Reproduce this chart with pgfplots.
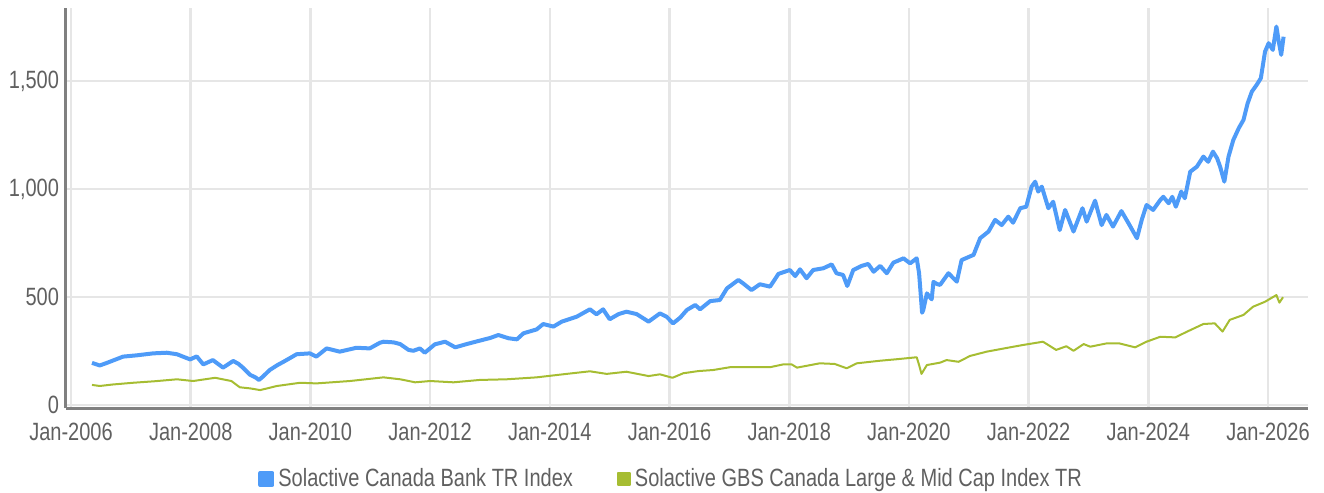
\documentclass[border=0pt]{standalone}
\usepackage{fontspec}
\setmainfont{Liberation Sans}[FakeStretch=0.80]
\usepackage{pgfplots}
\pgfplotsset{compat=1.18}
\definecolor{cBlue}{HTML}{4E9BF8}
\definecolor{cGreen}{HTML}{A6BD32}
\definecolor{cText}{HTML}{606060}
\definecolor{cGrid}{HTML}{E6E6E6}
\definecolor{cAxis}{HTML}{808080}
\begin{document}
\begin{tikzpicture}
\path[use as bounding box] (-33pt,-42.5pt) rectangle (629pt,204pt);
\begin{axis}[
  scale only axis, width=621pt, height=200pt,
  at={(0,0)}, anchor=south west,
  xmin=2005.916, xmax=2026.668, ymin=-13.9, ymax=1838,
  axis lines=left,
  axis line style={-, draw=cAxis, line width=1.5pt},
  major tick length=0pt,
  xtick={2006,2008,...,2026},
  xticklabels={Jan-2006,Jan-2008,Jan-2010,Jan-2012,Jan-2014,Jan-2016,Jan-2018,Jan-2020,Jan-2022,Jan-2024,Jan-2026},
  ytick={0,500,1000,1500},
  /pgf/number format/assume math mode=true,
  /pgf/number format/1000 sep={,},
  yticklabel style={font=\fontsize{12.5}{14}\selectfont, text=cText},
  xticklabel style={font=\fontsize{12.5}{14}\selectfont, text=cText, yshift=-4pt},
  grid=major,
  major grid style={draw=cGrid, line width=1.3pt},
  legend columns=2,
  legend style={at={(0.488,-0.1775)}, anchor=center, draw=none, fill=none,
    font=\fontsize{12.5}{14}\selectfont, text=cText,
    /tikz/every even column/.append style={column sep=20pt}},
  legend image code/.code={\fill[#1] (0pt,-3pt) rectangle (6pt,3pt);},
  legend cell align=left,
]
\addplot[color=cBlue, line width=2pt, line join=round] coordinates {
(2006.35,195) (2006.48,183) (2006.6,195) (2006.87,224) (2007.1,230) (2007.37,239)
(2007.6,242) (2007.77,235) (2007.99,211) (2008.1,225) (2008.21,188) (2008.37,208)
(2008.54,173) (2008.71,204) (2008.8,190) (2008.88,171) (2008.99,140) (2009.08,128)
(2009.14,116) (2009.2,130) (2009.32,162) (2009.45,185) (2009.55,200) (2009.77,235)
(2009.99,239) (2010.1,224) (2010.27,262) (2010.49,247) (2010.77,265) (2010.99,262)
(2011.16,288) (2011.22,293) (2011.39,290) (2011.5,282) (2011.64,255) (2011.72,251)
(2011.83,262) (2011.91,242) (2012.08,281) (2012.25,293) (2012.42,267) (2012.61,282)
(2012.83,298) (2013.0,310) (2013.14,324) (2013.31,309) (2013.45,304) (2013.56,332)
(2013.78,350) (2013.89,375) (2014.06,363) (2014.2,386) (2014.45,409) (2014.67,443)
(2014.78,420) (2014.89,443) (2015.0,397) (2015.15,421) (2015.28,432) (2015.45,421)
(2015.65,386) (2015.84,424) (2015.95,409) (2016.06,378) (2016.18,405) (2016.29,440)
(2016.43,463) (2016.51,443) (2016.68,481) (2016.84,486) (2016.96,540) (2017.15,579)
(2017.23,563) (2017.37,532) (2017.51,559) (2017.68,548) (2017.82,607) (2018.01,625)
(2018.1,597) (2018.18,628) (2018.29,587) (2018.4,625) (2018.57,633) (2018.71,651)
(2018.79,610) (2018.9,602) (2018.97,551) (2019.07,625) (2019.21,644) (2019.32,653)
(2019.41,617) (2019.52,644) (2019.63,610) (2019.74,659) (2019.91,679) (2020.02,656)
(2020.13,679) (2020.17,610) (2020.2,501) (2020.22,427) (2020.24,440) (2020.3,517)
(2020.38,489) (2020.41,570) (2020.47,560) (2020.52,556) (2020.66,610) (2020.8,571)
(2020.88,671) (2021.08,695) (2021.19,772) (2021.33,803) (2021.44,857) (2021.55,833)
(2021.66,872) (2021.74,844) (2021.86,911) (2021.96,918) (2022.05,1011) (2022.11,1034)
(2022.16,988) (2022.22,1011) (2022.33,911) (2022.41,941) (2022.52,810) (2022.61,903)
(2022.75,803) (2022.9,911) (2022.97,849) (2023.11,946) (2023.22,833) (2023.3,880)
(2023.41,826) (2023.55,898) (2023.67,841) (2023.81,772) (2023.89,857) (2023.97,926)
(2024.08,903) (2024.2,949) (2024.25,964) (2024.34,934) (2024.4,964) (2024.46,918)
(2024.55,988) (2024.61,957) (2024.7,1080) (2024.81,1103) (2024.92,1150) (2025.0,1126)
(2025.08,1173) (2025.15,1142) (2025.2,1103) (2025.27,1034) (2025.34,1150) (2025.42,1227)
(2025.51,1281) (2025.59,1320) (2025.66,1397) (2025.73,1451) (2025.81,1482) (2025.88,1513)
(2025.95,1636) (2026.01,1675) (2026.08,1644) (2026.14,1752) (2026.18,1682) (2026.22,1621)
(2026.26,1705)
};
\addlegendentry{Solactive Canada Bank TR Index}
\addplot[color=cGreen, line width=1pt, line join=round] coordinates {
(2006.35,93) (2006.48,88) (2006.7,95) (2007.04,103) (2007.4,110) (2007.77,119)
(2008.04,111) (2008.41,126) (2008.68,111) (2008.82,82) (2008.99,77) (2009.16,69)
(2009.44,88) (2009.83,103) (2010.1,100) (2010.66,111) (2011.22,128) (2011.5,119)
(2011.75,105) (2012.0,111) (2012.39,105) (2012.83,116) (2013.28,119) (2013.78,128)
(2014.28,144) (2014.67,156) (2014.95,144) (2015.28,154) (2015.65,134) (2015.84,142)
(2016.05,126) (2016.23,147) (2016.48,157) (2016.73,162) (2017.01,175) (2017.68,175)
(2017.9,188) (2018.04,188) (2018.13,173) (2018.51,193) (2018.76,190) (2018.96,170)
(2019.13,193) (2019.52,205) (2019.8,212) (2020.13,221) (2020.17,185) (2020.21,144)
(2020.3,185) (2020.52,196) (2020.63,208) (2020.83,200) (2021.02,227) (2021.3,247)
(2021.69,267) (2021.91,278) (2022.24,293) (2022.46,255) (2022.63,272) (2022.75,251)
(2022.92,282) (2023.03,270) (2023.3,285) (2023.52,285) (2023.78,267) (2023.97,293)
(2024.2,316) (2024.45,313) (2024.65,340) (2024.92,375) (2025.11,378) (2025.24,340)
(2025.36,394) (2025.59,417) (2025.75,455) (2025.95,478) (2026.14,509) (2026.19,474)
(2026.25,499)
};
\addlegendentry{Solactive GBS Canada Large \& Mid Cap Index TR}
\end{axis}
\end{tikzpicture}
\end{document}
